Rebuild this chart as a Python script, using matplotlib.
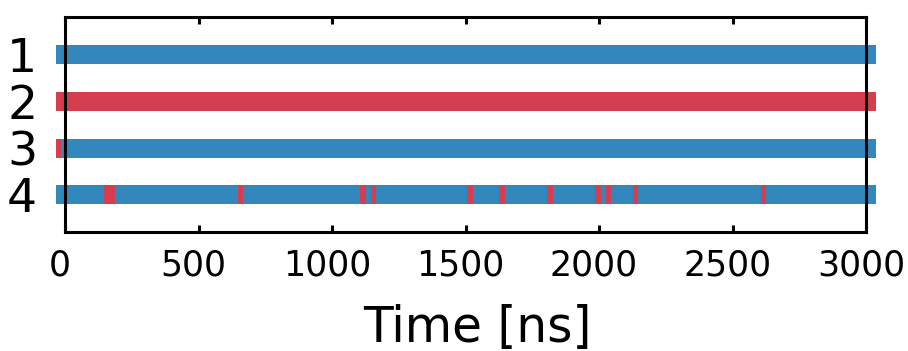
import matplotlib
matplotlib.use("Agg")
import matplotlib.pyplot as plt
from matplotlib.transforms import ScaledTranslation

# Data: state intervals per row (ns); "A" = blue state, "B" = red state
t_start = 0
t_end = 3000
rows = [1, 2, 3, 4]
row_base_state = ["A", "B", "A", "A"]
# red (state B) intervals within rows whose base is A
row3_red = [(0, 20)]
row4_red = [(180, 220), (680, 700), (1140, 1160), (1180, 1200), (1540, 1560),
            (1660, 1680), (1840, 1860), (2020, 2040), (2060, 2080),
            (2160, 2180), (2640, 2660)]
row_red = [[], [], row3_red, row4_red]
xticks = [0, 500, 1000, 1500, 2000, 2500, 3000]

colors = {"A": "#3288bd", "B": "#d53e4f"}

def segments(base, reds):
    segs = []
    cur = t_start
    other = "B" if base == "A" else "A"
    for a, b in reds:
        if a > cur:
            segs.append((cur, a, base))
        segs.append((a, b, other))
        cur = b
    if cur < t_end:
        segs.append((cur, t_end, base))
    return segs

W, H = 908, 351
fig = plt.figure(figsize=(W / 100, H / 100), dpi=100)
ax = fig.add_axes([65 / W, (H - 231.7) / H, 801 / W, 214.7 / H])

lw = 19 * 72 / 100
for r, base, reds in zip(rows, row_base_state, row_red):
    for a, b, s in segments(base, reds):
        ax.plot([a, b], [r, r], color=colors[s], lw=lw,
                solid_capstyle="projecting", clip_on=False)

ax.set_xlim(t_start, t_end)
ax.set_ylim(4.8, 0.2)
ax.set_xticks(xticks)
ax.set_xticklabels([str(v) for v in xticks])
ax.set_yticks(rows)
ax.set_yticklabels([str(r) for r in rows])

for sp in ax.spines.values():
    sp.set_linewidth(2.2)
ax.tick_params(axis="x", which="both", direction="in", length=5, width=2.2,
               top=True, bottom=True, labelsize=25, pad=12)
ax.tick_params(axis="y", length=0, labelsize=34, pad=20)
ax.set_xlabel("Time [ns]", fontsize=35)
ax.xaxis.set_label_coords(0.515, -0.335)
ax.xaxis.label.set_va("top")

shift = ScaledTranslation(-5 / 100, 0, fig.dpi_scale_trans)
for lab in ax.get_xticklabels():
    lab.set_transform(lab.get_transform() + shift)

fig.savefig("out.png", dpi=100)
